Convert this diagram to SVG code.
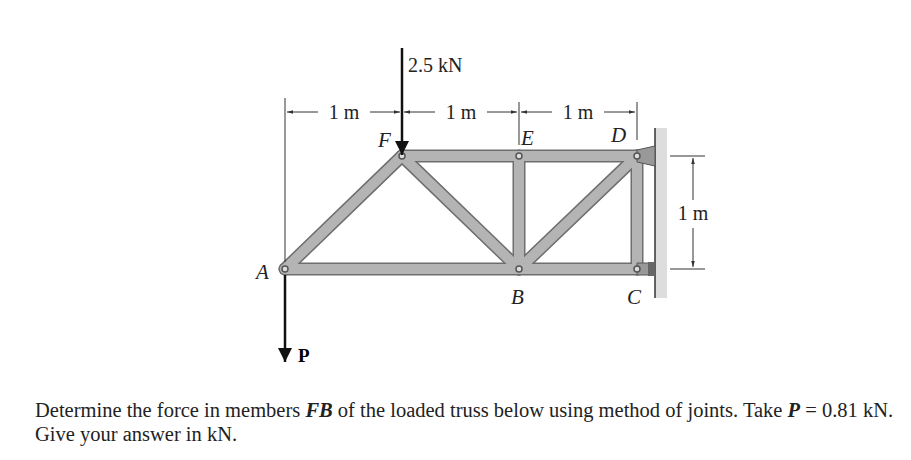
<svg xmlns="http://www.w3.org/2000/svg" width="911" height="460" viewBox="0 0 911 460">
<style>
text{font-family:"Liberation Serif","Times New Roman",serif}
.lbl{font-style:italic;font-size:21px;fill:#222}
.dim{font-size:20px;fill:#222}
.thin{stroke:#333;stroke-width:1;fill:none}
.pin{fill:#ddd;stroke:#555;stroke-width:1.5}
</style>
<defs>
<marker id="ah" viewBox="0 0 10 10" refX="10" refY="5" markerWidth="9" markerHeight="6" orient="auto" markerUnits="userSpaceOnUse"><path d="M0,2 L10,5 L0,8 z" fill="#333"/></marker>
<marker id="big" viewBox="0 0 10 10" refX="10" refY="5" markerWidth="20" markerHeight="14" orient="auto" markerUnits="userSpaceOnUse"><path d="M0,0 L10,5 L0,10 z" fill="#111"/></marker>
</defs>
<rect width="911" height="460" fill="#fff"/>
<g id="wall"><rect x="655" y="128" width="12" height="170" fill="#ddd"/><line x1="655" y1="128" x2="655" y2="298" stroke="#333" stroke-width="1.5"/></g>
<g id="members">
<g stroke="#6e6e6e" stroke-width="13" stroke-linecap="round">
<line x1="285" y1="269" x2="402" y2="156"/><line x1="402" y1="156" x2="519" y2="269"/>
<line x1="519" y1="156" x2="519" y2="269"/><line x1="519" y1="269" x2="637" y2="156"/>
<line x1="637" y1="156" x2="637" y2="269"/>
<line x1="285" y1="269" x2="637" y2="269"/><line x1="402" y1="156" x2="637" y2="156"/>
</g>
<g stroke="#b4b4b4" stroke-width="10" stroke-linecap="round">
<line x1="285" y1="269" x2="402" y2="156"/><line x1="402" y1="156" x2="519" y2="269"/>
<line x1="519" y1="156" x2="519" y2="269"/><line x1="519" y1="269" x2="637" y2="156"/>
<line x1="637" y1="156" x2="637" y2="269"/>
<line x1="285" y1="269" x2="637" y2="269"/><line x1="402" y1="156" x2="637" y2="156"/>
</g>
</g>
<g id="supports">
<path d="M637,150 L655,146 L655,166 L637,162 z" fill="#999" stroke="#555"/>
<path d="M637,263 L650,263 L650,275 L637,275 z" fill="#999" stroke="#555"/>
<rect x="648" y="262" width="6" height="14" fill="#666"/>
</g>
<g id="joints">
<circle class="pin" cx="285" cy="269" r="3"/><circle class="pin" cx="402" cy="156" r="3"/>
<circle class="pin" cx="519" cy="156" r="3"/><circle class="pin" cx="519" cy="269" r="3"/>
<circle class="pin" cx="637" cy="156" r="3"/><circle class="pin" cx="637" cy="269" r="3"/>
</g>
<g id="connectors">
<line class="thin" x1="285" y1="98" x2="285" y2="262"/>
<line class="thin" x1="519" y1="102" x2="519" y2="145"/>
<line class="thin" x1="637" y1="102" x2="637" y2="140"/>
<line class="thin" x1="318" y1="112" x2="287" y2="112" marker-end="url(#ah)"/>
<line class="thin" x1="370" y1="112" x2="400" y2="112" marker-end="url(#ah)"/>
<line class="thin" x1="435" y1="112" x2="404" y2="112" marker-end="url(#ah)"/>
<line class="thin" x1="487" y1="112" x2="517" y2="112" marker-end="url(#ah)"/>
<line class="thin" x1="552" y1="112" x2="521" y2="112" marker-end="url(#ah)"/>
<line class="thin" x1="604" y1="112" x2="635" y2="112" marker-end="url(#ah)"/>
<line class="thin" x1="670" y1="156" x2="705" y2="156"/>
<line class="thin" x1="670" y1="269" x2="705" y2="269"/>
<line class="thin" x1="693" y1="200" x2="693" y2="158" marker-end="url(#ah)"/>
<line class="thin" x1="693" y1="228" x2="693" y2="267" marker-end="url(#ah)"/>
<line x1="402" y1="48" x2="402" y2="155" stroke="#111" stroke-width="2.5" marker-end="url(#big)"/>
<line x1="285" y1="275" x2="285" y2="362" stroke="#111" stroke-width="2.5" marker-end="url(#big)"/>
</g>
<g id="labels">
<text class="dim" x="408" y="72">2.5 kN</text>
<text class="dim" x="344" y="119" text-anchor="middle">1 m</text>
<text class="dim" x="461" y="119" text-anchor="middle">1 m</text>
<text class="dim" x="578" y="119" text-anchor="middle">1 m</text>
<text class="dim" x="693" y="220" text-anchor="middle">1 m</text>
<text class="lbl" x="256" y="279">A</text>
<text class="lbl" x="378" y="147">F</text>
<text class="lbl" x="521" y="145">E</text>
<text class="lbl" x="611" y="142">D</text>
<text class="lbl" x="511" y="304">B</text>
<text class="lbl" x="627" y="304">C</text>
<text x="298" y="362" font-weight="bold" font-size="19">P</text>
</g>
<g id="question" font-size="20.5" fill="#222">
<text x="35" y="417">Determine the force in members <tspan font-weight="bold" font-style="italic">FB</tspan> of the loaded truss below using method of joints. Take <tspan font-weight="bold" font-style="italic">P</tspan> = 0.81 kN.</text>
<text x="35" y="441">Give your answer in kN.</text>
</g>
</svg>
